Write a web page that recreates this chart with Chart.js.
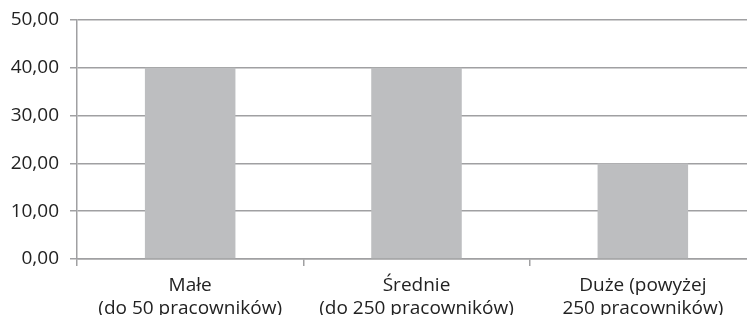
<!DOCTYPE html>
<html><head><meta charset="utf-8">
<script src="https://cdn.jsdelivr.net/npm/chart.js@4/dist/chart.umd.min.js"></script>
<style>html,body{margin:0;padding:0;overflow:hidden;background:#fff}#wrap{width:756px;height:322px}</style>
</head><body><div id="wrap"><canvas id="c"></canvas></div>
<script>
const categories = [["Małe","(do 50 pracowników)"],["Średnie","(do 250 pracowników)"],["Duże (powyżej","250 pracowników)"]];
const values = [40, 40, 20];
const yTicks = [0, 10, 20, 30, 40, 50];

const fmt = v => v.toFixed(2).replace('.', ',');
new Chart(document.getElementById('c'), {
  type: 'bar',
  data: { labels: categories, datasets: [{ data: values, backgroundColor: '#bdbec0', barPercentage: 0.4, categoryPercentage: 1 }] },
  options: {
    responsive: true, maintainAspectRatio: false, animation: false,
    layout: { padding: { top: 20, left: 0, right: 0, bottom: 0 } },
    plugins: { legend: { display: false }, tooltip: { enabled: false } },
    scales: {
      x: {
        offset: true,
        grid: { offset: true, drawOnChartArea: false, drawTicks: true, tickLength: 7, color: '#a0a0a2', lineWidth: 1.5 },
        border: { display: true, color: '#a0a0a2', width: 1.5 },
        ticks: { color: '#222', font: { family: 'Open Sans', size: 19, lineHeight: 1.2 }, padding: 8, maxRotation: 0, autoSkip: false },
        afterFit: s => { s.height = 63; }
      },
      y: {
        min: 0, max: 50,
        afterBuildTicks: s => { s.ticks = yTicks.map(v => ({ value: v })); },
        grid: { color: '#a0a0a2', lineWidth: 1.5, tickLength: 7 },
        border: { display: true, color: '#a0a0a2', width: 1.5 },
        ticks: { color: '#222', font: { family: 'Open Sans', size: 19 }, padding: 11, callback: v => fmt(v) },
        afterFit: s => { s.width = 77; s.paddingTop = 0; s.paddingBottom = 0; }
      }
    }
  }
});
</script></body></html>
